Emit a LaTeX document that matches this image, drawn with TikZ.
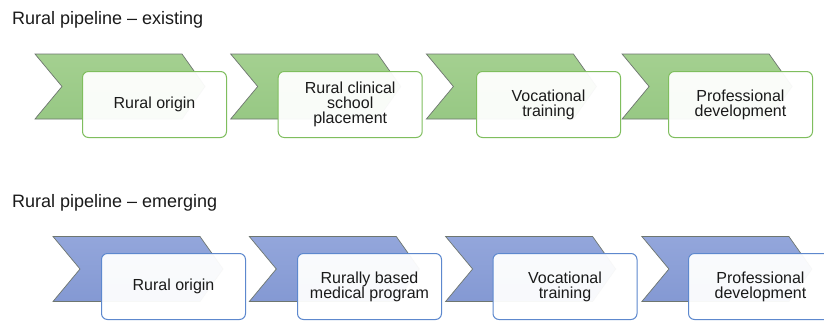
\documentclass[tikz,border=0pt]{standalone}
\usepackage{fontspec}
\setmainfont{Liberation Sans}
\definecolor{gchev}{HTML}{A4D090}
\definecolor{gchevb}{HTML}{97C884}
\definecolor{bchev}{HTML}{93A6DB}
\definecolor{bchevb}{HTML}{8499D3}
\definecolor{chevline}{HTML}{6E7670}
\definecolor{gline}{HTML}{7FBE5E}
\definecolor{bline}{HTML}{5D88CE}
\definecolor{txt}{HTML}{1A1A1A}
\tikzset{
  gchevron/.style={top color=gchev, bottom color=gchevb, draw=chevline, line width=0.7pt, line join=miter},
  bchevron/.style={top color=bchev, bottom color=bchevb, draw=chevline, line width=0.7pt, line join=miter},
  stepbox/.style={anchor=north west, rounded corners=6pt, fill=white, fill opacity=0.95, text opacity=1,
    line width=1pt, minimum width=144pt, minimum height=66pt, inner sep=2pt,
    align=center, text=txt, font=\fontsize{16}{15}\selectfont},
  gbox/.style={stepbox, draw=gline},
  bbox/.style={stepbox, draw=bline},
  title/.style={anchor=base west, inner sep=0pt, text=txt, font=\fontsize{18}{20}\selectfont}
}
\newcommand\mychev[3]{\draw[#3] (#1,#2) -- ++(147,0) -- ++(23,32.5) -- ++(-23,32.5) -- ++(-147,0) -- ++(27,-32.5) -- cycle;}
\begin{document}
\begin{tikzpicture}[x=1pt,y=-1pt]
\useasboundingbox[fill=white] (0,0) rectangle (824,322);
% titles
\node[title] (t1) at (12,24) {Rural pipeline -- existing};
\node[title] (t2) at (12,207) {Rural pipeline -- emerging};
% top row chevrons
\mychev{35}{54}{gchevron}
\mychev{230.7}{54}{gchevron}
\mychev{426.4}{54}{gchevron}
\mychev{622.1}{54}{gchevron}
% top row boxes
\node[gbox] (e1) at (82,71) {Rural origin};
\node[gbox] (e2) at (277.7,71) {Rural clinical\\school\\placement};
\node[gbox] (e3) at (476,71) {Vocational\\training};
\node[gbox] (e4) at (668,71) {Professional\\development};
% bottom row chevrons
\mychev{53}{236.5}{bchevron}
\mychev{249.3}{236.5}{bchevron}
\mychev{445.6}{236.5}{bchevron}
\mychev{641.9}{236.5}{bchevron}
% bottom row boxes
\node[bbox] (m1) at (101,253) {Rural origin};
\node[bbox] (m2) at (297,253) {Rurally based\\medical program};
\node[bbox] (m3) at (492.5,253) {Vocational\\training};
\node[bbox] (m4) at (688,253) {Professional\\development};
\end{tikzpicture}
\end{document}
